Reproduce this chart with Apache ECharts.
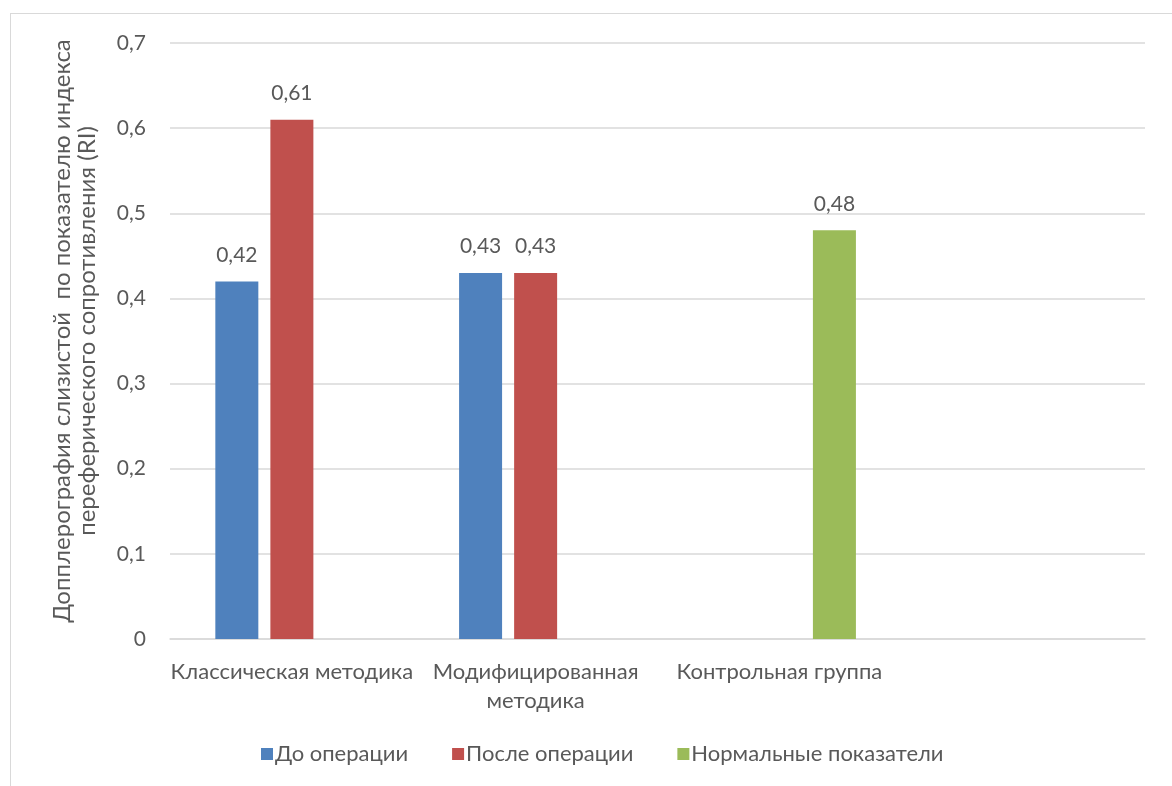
<!DOCTYPE html>
<html>
<head>
<meta charset="utf-8">
<script src="https://cdn.jsdelivr.net/npm/echarts@6/dist/echarts.min.js"></script>
<style>
  html, body { margin: 0; padding: 0; background: #fff; }
  #frame { position: absolute; left: 10px; top: 13px; width: 1200px; height: 800px;
           border-left: 1px solid #d9d9d9; border-top: 1px solid #d9d9d9; }
  #chart { position: absolute; left: 0; top: 0; width: 1172px; height: 786px; }
</style>
</head>
<body>
<div id="frame"></div>
<div id="chart"></div>
<script>
// Categories (the last slot is intentionally empty)
const categories = ['Классическая методика', 'Модифицированная\nметодика', 'Контрольная группа', ''];
const seriesNames = ['До операции', 'После операции', 'Нормальные показатели'];
const beforeOp = [0.42, 0.43, null, null];
const afterOp = [0.61, 0.43, null, null];
const normalVals = [null, null, 0.48, null];
const colors = ['#4f81bd', '#c0504d', '#9bbb59'];
const yAxisTitle = 'Допплерография слизистой  по показателю индекса\nпереферического сопротивления (RI)';

const font = 'Lato, "Open Sans", sans-serif';
const textColor = '#595959';
const fmt = v => String(v).replace('.', ',');

function barSeries(name, data, color) {
  return {
    name: name,
    type: 'bar',
    data: data,
    barWidth: 43,
    barGap: '28%',
    itemStyle: { color: color },
    label: {
      show: true,
      position: 'top',
      distance: 16,
      color: textColor,
      fontFamily: font,
      fontSize: 21,
      formatter: p => p.value == null ? '' : p.value.toFixed(2).replace('.', ',')
    }
  };
}

const chart = echarts.init(document.getElementById('chart'));
chart.setOption({
  animation: false,
  grid: { left: 170, right: 27, top: 43, bottom: 147 },
  legend: {
    top: 738,
    left: 256,
    itemWidth: 12,
    itemHeight: 12,
    itemGap: 44,
    icon: 'rect',
    textStyle: { color: textColor, fontFamily: font, fontSize: 22, padding: [0, 0, 0, -3] },
    data: seriesNames
  },
  xAxis: {
    type: 'category',
    data: categories,
    axisLine: { lineStyle: { color: '#d9d9d9', width: 1.5 } },
    axisTick: { show: false },
    axisLabel: { color: textColor, fontFamily: font, fontSize: 22, margin: 18, lineHeight: 29, interval: 0 }
  },
  yAxis: {
    type: 'value',
    min: 0,
    max: 0.7,
    interval: 0.1,
    name: yAxisTitle,
    nameLocation: 'middle',
    nameGap: 70,
    nameRotate: 90,
    nameTextStyle: { color: textColor, fontFamily: font, fontSize: 24, lineHeight: 25, padding: [0, 0, 0, 20] },
    axisLine: { show: false },
    axisTick: { show: false },
    axisLabel: { color: textColor, fontFamily: font, fontSize: 21, margin: 24, formatter: v => fmt(Math.round(v * 10) / 10) },
    splitLine: { lineStyle: { color: '#d9d9d9', width: 1.5 } }
  },
  series: [
    barSeries(seriesNames[0], beforeOp, colors[0]),
    barSeries(seriesNames[1], afterOp, colors[1]),
    barSeries(seriesNames[2], normalVals, colors[2])
  ]
});
</script>
</body>
</html>
